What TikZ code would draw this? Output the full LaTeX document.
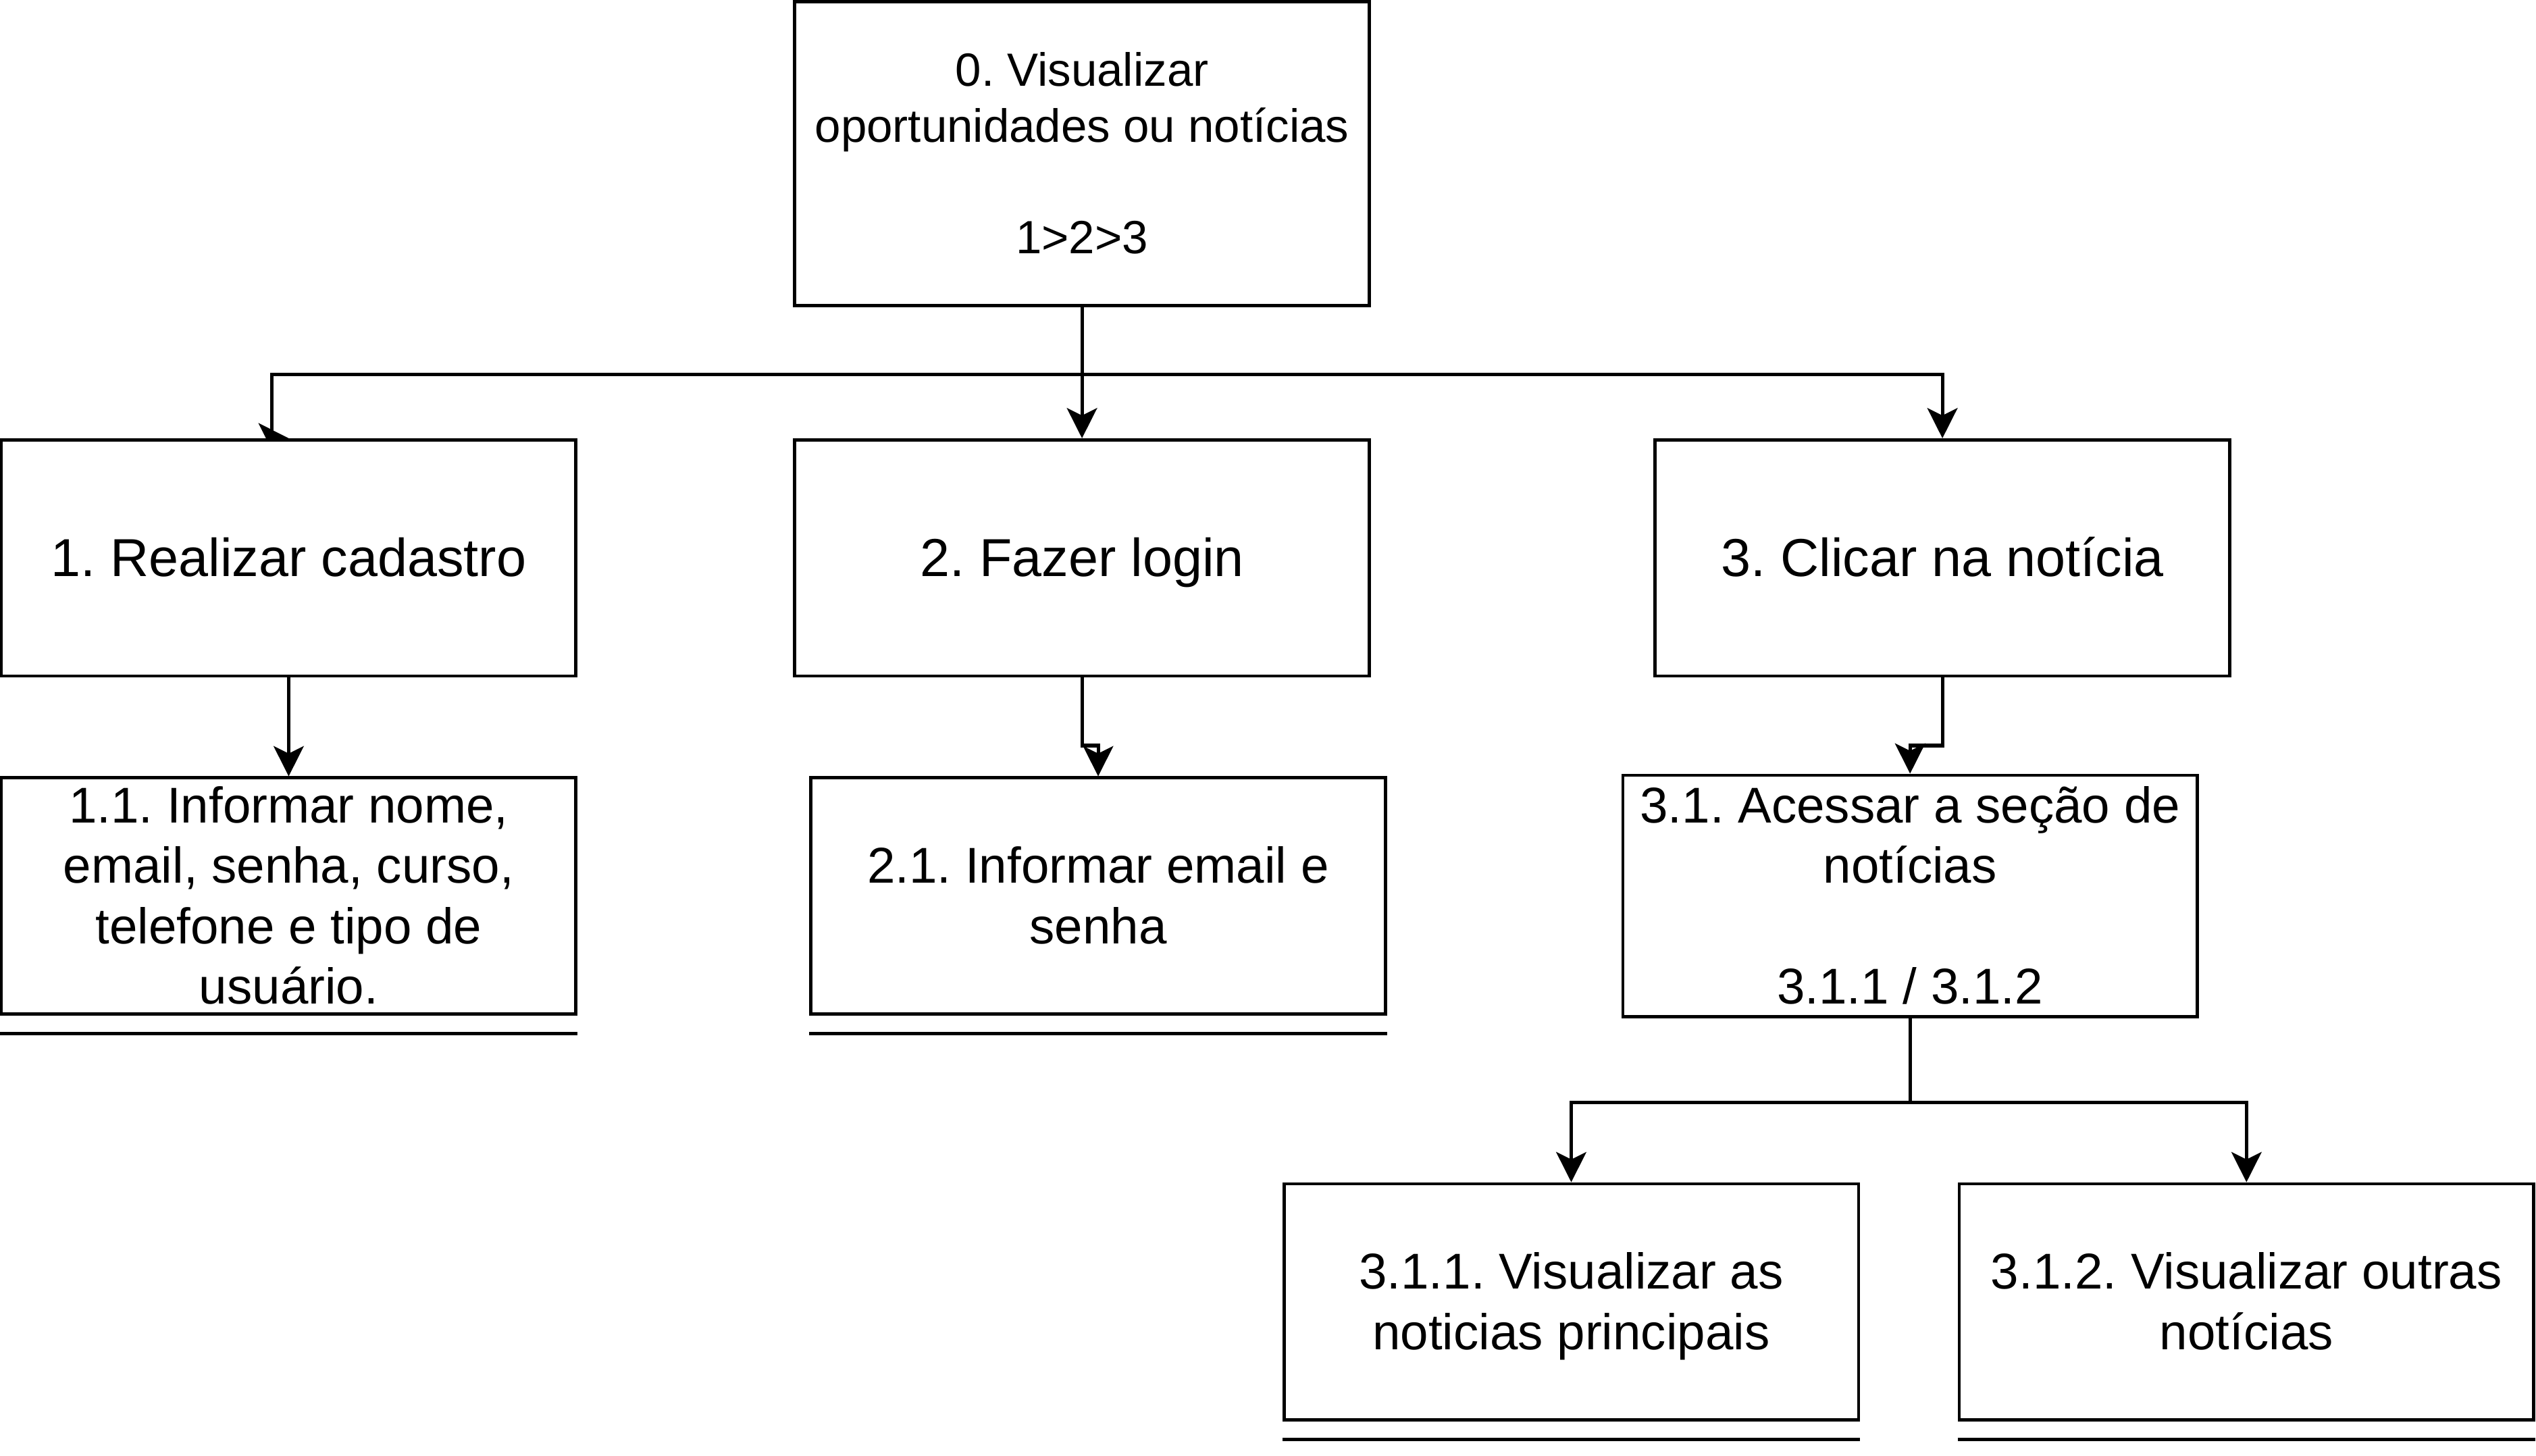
\documentclass[tikz,border=0pt]{standalone}
\usepackage{fontspec}
\setmainfont{Liberation Sans}
\usetikzlibrary{arrows.meta,backgrounds}
\frenchspacing

\newcommand{\bxstrut}{\rule[-0.2535em]{0pt}{1.2em}}
\tikzstyle{box} = [draw, fill=white, rectangle, line width=0.55pt, minimum width=3.55cm, minimum height=1.46cm, align=center, inner sep=0pt]
\tikzstyle{line} = [draw, line width=0.6pt, -{Stealth[length=5.3pt,width=5.3pt,inset=1.3pt]}]
\tikzstyle{under} = [draw, line width=0.6pt]
\tikzstyle{small} = [font=\fontsize{8.2pt}{9.84pt}\selectfont]
\tikzstyle{big} = [font=\fontsize{9.4pt}{11.28pt}\selectfont]
\tikzstyle{mid} = [font=\fontsize{8.85pt}{10.62pt}\selectfont]

\begin{document}
\begin{tikzpicture}[x=0.01cm,y=-0.01cm]
		\useasboundingbox (0,0) rectangle (1568,900);
		
		%top
		\node[box,small,minimum height=1.88cm](vis) at (669,95) {\bxstrut 0. Visualizar\\ oportunidades ou notícias\\[9.84pt] 1>2>3\bxstrut};
		%first level
		\node[box,big](cad) at (178.5,345) {\bxstrut 1. Realizar cadastro\bxstrut};
		\node[box,big](login) at (669,345) {\bxstrut 2. Fazer login\bxstrut};
		\node[box,big](clicar) at (1201,345) {\bxstrut 3. Clicar na notícia\bxstrut};
		%second level
		\node[box,mid,inner ysep=-1pt](infcad) at (178.5,554) {\bxstrut 1.1. Informar nome,\\ email, senha, curso,\\ telefone e tipo de\\ usuário.\bxstrut};
		\node[box,mid](inflogin) at (679,554) {\bxstrut 2.1. Informar email e\\ senha\bxstrut};
		\node[box,mid](secao) at (1181,554) {\bxstrut 3.1. Acessar a seção de\\ notícias\\[10.62pt] 3.1.1 / 3.1.2\bxstrut};
		%third level
		\node[box,mid](principais) at (971.5,805) {\bxstrut 3.1.1. Visualizar as\\ noticias principais\bxstrut};
		\node[box,mid](outras) at (1389,805) {\bxstrut 3.1.2. Visualizar outras\\ notícias\bxstrut};
		
		%underlines
		\draw[under] ([yshift=-0.11cm]infcad.south west) -- ([yshift=-0.11cm]infcad.south east);
		\draw[under] ([yshift=-0.11cm]inflogin.south west) -- ([yshift=-0.11cm]inflogin.south east);
		\draw[under] ([yshift=-0.11cm]principais.south west) -- ([yshift=-0.11cm]principais.south east);
		\draw[under] ([yshift=-0.11cm]outras.south west) -- ([yshift=-0.11cm]outras.south east);
		
		%arrows
		\begin{scope}[on background layer]
		\draw[line] (vis.south) -- ++(0,41.5) -| ([xshift=-0.105cm]cad.north) -- (cad.north);
		\draw[line] (vis.south) -- (login.north);
		\draw[line] (vis.south) -- ++(0,41.5) -| (clicar.north);
		\draw[line] (cad.south) -- (infcad.north);
		\draw[line] (login.south) -- ++(0,42) -| (inflogin.north);
		\draw[line] (clicar.south) -- ++(0,42) -| (secao.north);
		\draw[line] (secao.south) -- ++(0,52) -| (principais.north);
		\draw[line] (secao.south) -- ++(0,52) -| (outras.north);
		\end{scope}
		\end{tikzpicture}
\end{document}
